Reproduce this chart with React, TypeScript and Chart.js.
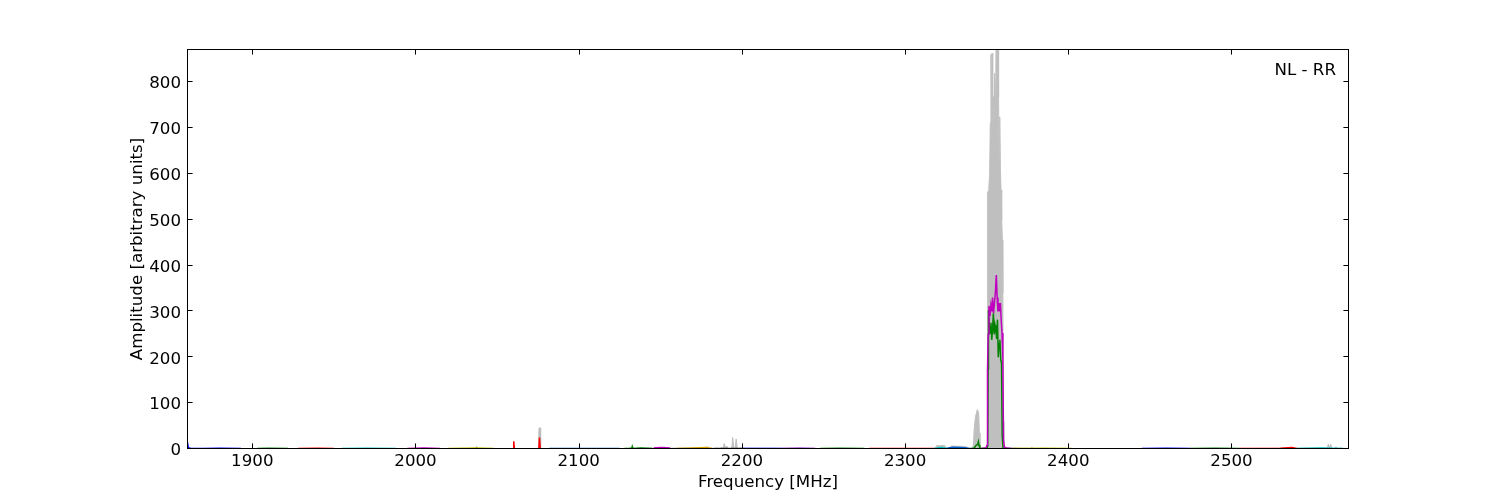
import React, { useEffect, useRef } from 'react';
import { Chart, registerables } from 'chart.js';

Chart.register(...registerables);

const FONT = "'DejaVu Sans', 'Liberation Sans', sans-serif";
const FONT_PX = 16.67;

// Axis setup
const xLimits = [1860, 2572];
const yLimits = [0, 872];
const xTicks = [1900, 2000, 2100, 2200, 2300, 2400, 2500];
const yTicks = [0, 100, 200, 300, 400, 500, 600, 700, 800];
const xTitle = 'Frequency [MHz]';
const yTitle = 'Amplitude [arbitrary units]';
const panelLabel = 'NL - RR';

// Full-band (grey) spectrum
const greyFreq = [
  1860, 1861, 1863, 1900, 1950, 2000,
  2036.8, 2037.5, 2038.2, 2060,
  2075.3, 2075.7, 2076.3, 2076.7, 2100,
  2131, 2131.5, 2132, 2140, 2150, 2152, 2153, 2154,
  2170, 2178, 2179, 2180,
  2186.5, 2187.5, 2188.3, 2189.2, 2190, 2190.8, 2191.5,
  2193.8, 2194.4, 2195, 2195.8, 2196.5, 2197.2, 2199, 2250,
  2317, 2318.5, 2319.5, 2321, 2324, 2325.5, 2327, 2328.5, 2330, 2334, 2337.5, 2339,
  2341.2, 2341.9, 2342.3, 2343.1, 2344.3, 2345.1, 2345.5, 2345.9, 2347,
  2350.4, 2350.6, 2351.2, 2351.8, 2352.2, 2352.6, 2353.0, 2353.3, 2353.7, 2354.1,
  2354.5, 2354.8, 2355.2, 2355.5, 2355.8, 2356.3, 2356.7, 2357.0, 2357.3, 2357.6,
  2358.0, 2358.4, 2358.8, 2359.2, 2359.6, 2359.9, 2360.2, 2360.5, 2361, 2362,
  2377, 2377.7, 2378.4, 2400, 2500,
  2558.8, 2559.3, 2560.2, 2560.8, 2561.5, 2563, 2564, 2565, 2566, 2572,
];
const greyAmp = [
  3, 2, 1, 1, 1, 1,
  1, 6, 1, 1,
  1, 46, 46, 1, 1,
  1, 4, 1, 2, 2, 4, 4, 2,
  2, 3, 5, 2,
  1, 3, 1, 12, 2, 6, 1,
  1, 25, 2, 1, 22, 1, 2, 1,
  1, 2, 8, 7, 8, 2, 1, 7, 6, 6, 5, 1,
  2, 10, 41, 70, 86, 78, 35, 5, 2,
  3, 561, 560, 600, 710, 860, 770, 863, 760, 768,
  700, 819, 770, 760, 920, 1000, 900, 950, 768, 630,
  724, 610, 565, 500, 455, 340, 60, 10, 6, 3,
  1, 4, 1, 1, 1,
  2, 11, 3, 10, 2, 1, 5, 1, 2, 1,
];

// Sub-band spectra (coloured lines)
const segColors = [
  '#0000ff', '#000000', '#008000', '#ff0000', '#00bfbf', '#bf00bf', '#bfbf00',
  '#000000', '#ff0000', '#0060d0', '#008000', '#bf00bf', '#d0a000', '#000000',
  '#0000ff', '#8000c0', '#008000', '#ff0000', '#00bfbf', '#0060d0', '#008000',
  '#bf00bf', '#bfbf00', '#000000', '#0000ff', '#008000', '#ff0000', '#00bfbf',
];
const segFreqs = [
  [1860, 1860.8, 1862, 1870, 1880, 1893],
  [1893, 1903],
  [1903, 1910, 1922],
  [1928, 1940, 1950],
  [1955, 1970, 1988],
  [1995, 2005, 2015],
  [2020, 2037.5, 2048],
  [2048, 2058],
  [2058, 2059.8, 2060.2, 2060.6, 2068, 2075.6, 2076.0, 2076.4, 2082],
  [2082, 2100, 2125],
  [2128, 2132.5, 2132.8, 2133.1, 2138, 2145],
  [2146, 2150, 2156],
  [2160, 2170, 2178, 2182],
  [2183, 2200],
  [2200, 2215, 2225],
  [2225, 2235, 2245],
  [2248, 2260, 2275],
  [2278, 2300, 2318],
  [2318, 2322, 2326],
  [2326, 2330, 2336, 2340],
  [2340, 2341.5, 2342.5, 2343.5, 2344.5, 2344.9, 2345.3, 2345.8, 2346.5, 2349.5, 2350.6, 2350.9, 2351.1,
    2351.6, 2352.1, 2352.6, 2353.1, 2353.6, 2354.1, 2354.6, 2355.1, 2355.6, 2356.1, 2356.6, 2357.1,
    2357.6, 2358.1, 2358.6, 2359.1, 2359.5, 2360, 2361],
  [2347, 2349.5, 2350.2, 2350.5, 2350.9, 2351.4, 2352.0, 2352.6, 2353.2, 2353.6, 2354.2, 2354.8, 2355.3,
    2355.9, 2356.4, 2356.9, 2357.4, 2357.9, 2358.4, 2358.9, 2359.4, 2359.9, 2360.3, 2360.8, 2362, 2364.5, 2366],
  [2366, 2385, 2402],
  [2402, 2430],
  [2445, 2460, 2475],
  [2475, 2490, 2505],
  [2505, 2530, 2537, 2540],
  [2540, 2555, 2568],
];
const segAmps = [
  [20, 3, 1.5, 1, 1.5, 1],
  [0.5, 0.5],
  [1, 1.5, 1],
  [1, 1.5, 1],
  [1, 1.5, 1],
  [1, 2, 1],
  [1, 2, 1],
  [0.5, 0.5],
  [0.5, 1, 17, 1, 0.5, 1, 25, 1, 0.5],
  [1, 1, 1],
  [1, 1, 5, 1, 2, 1],
  [2, 3, 2],
  [1, 2, 3, 1],
  [1, 1],
  [1, 1, 1],
  [1, 1.5, 1],
  [1, 1.5, 1],
  [1, 1, 1],
  [1, 3, 1],
  [2, 4, 3, 1],
  [1, 1, 3, 8, 10, 16, 8, 2, 1, 1, 5, 175, 303,
    270, 253, 275, 238, 260, 296, 250, 270, 260, 240, 282, 200,
    230, 238, 195, 187, 30, 3, 1],
  [1, 2, 8, 172, 250, 312, 290, 314, 300, 330, 296, 320, 340,
    379, 330, 300, 318, 300, 318, 280, 253, 200, 20, 4, 2, 1, 0.5],
  [1, 1.5, 1],
  [0.5, 0.5],
  [1, 1.5, 1],
  [1, 1.5, 1],
  [1, 1.5, 3, 1],
  [1, 2, 1],
];

const zip = (xs: number[], ys: number[]) => xs.map((x, i) => ({ x, y: ys[i] }));

const framePlugin = {
  id: 'mplFrame',
  afterDatasetsDraw(chart: any) {
    const { ctx, chartArea: a, scales } = chart;
    ctx.save();
    ctx.strokeStyle = '#000';
    ctx.lineWidth = 1;
    ctx.strokeRect(a.left + 0.5, a.top + 0.5, a.right - a.left - 1, a.bottom - a.top - 1);
    const tl = 5.6;
    ctx.beginPath();
    xTicks.forEach((v) => {
      const px = Math.round(scales.x.getPixelForValue(v)) + 0.5;
      ctx.moveTo(px, a.bottom);
      ctx.lineTo(px, a.bottom - tl);
      ctx.moveTo(px, a.top);
      ctx.lineTo(px, a.top + tl);
    });
    yTicks.forEach((v) => {
      const py = Math.round(scales.y.getPixelForValue(v)) - 0.5;
      ctx.moveTo(a.left, py);
      ctx.lineTo(a.left + tl, py);
      ctx.moveTo(a.right, py);
      ctx.lineTo(a.right - tl, py);
    });
    ctx.stroke();
    ctx.fillStyle = '#000';
    ctx.font = `${FONT_PX}px ${FONT}`;
    ctx.textAlign = 'right';
    ctx.textBaseline = 'middle';
    ctx.fillText(panelLabel, 1336, 71);
    ctx.restore();
  },
};

export default function App() {
  const ref = useRef<HTMLCanvasElement | null>(null);
  useEffect(() => {
    if (!ref.current) return;
    const n = segFreqs.length;
    const datasets: any[] = [
      {
        label: 'all',
        data: zip(greyFreq, greyAmp),
        borderColor: '#bfbfbf',
        backgroundColor: '#bfbfbf',
        borderWidth: 1,
        fill: 'origin',
        pointRadius: 0,
        order: 1000,
      },
      ...segFreqs.map((f, i) => ({
        label: 'sb' + i,
        data: zip(f, segAmps[i]),
        borderColor: segColors[i],
        backgroundColor: segColors[i],
        borderWidth: 1.5,
        fill: false,
        pointRadius: 0,
        order: n - i,
      })),
    ];
    const tickFont = { family: FONT, size: FONT_PX };
    const chart = new Chart(ref.current, {
      type: 'line',
      data: { datasets },
      options: {
        animation: false,
        responsive: false,
        devicePixelRatio: 1,
        layout: { padding: { left: 0, top: 49, right: 151, bottom: 0 } },
        plugins: { legend: { display: false }, tooltip: { enabled: false } },
        elements: { line: { tension: 0 } },
        scales: {
          x: {
            type: 'linear',
            min: xLimits[0],
            max: xLimits[1],
            grid: { display: false, drawTicks: false },
            border: { display: false },
            afterBuildTicks: (s: any) => { s.ticks = xTicks.map((v) => ({ value: v })); },
            afterFit: (s: any) => { s.height = 51; },
            ticks: {
              font: tickFont, color: '#000', padding: 3, maxRotation: 0, autoSkip: false,
              callback: (v: any) => String(v),
            },
            title: {
              display: true, text: xTitle, color: '#000', font: tickFont,
              padding: { top: 0, bottom: 7 },
            },
          },
          y: {
            type: 'linear',
            min: yLimits[0],
            max: yLimits[1],
            grid: { display: false, drawTicks: false },
            border: { display: false },
            afterBuildTicks: (s: any) => { s.ticks = yTicks.map((v) => ({ value: v })); },
            afterFit: (s: any) => { s.width = 187; },
            ticks: {
              font: tickFont, color: '#000', padding: 6, autoSkip: false, labelOffset: 2,
              callback: (v: any) => String(v),
            },
            title: {
              display: true, text: yTitle, color: '#000', font: tickFont,
              padding: { top: 127.5, bottom: 0 },
            },
          },
        },
      },
      plugins: [framePlugin],
    } as any);
    return () => chart.destroy();
  }, []);
  return (
    <div style={{ position: 'absolute', left: 0, top: 0, width: 1500, height: 500, background: '#fff' }}>
      <canvas ref={ref} width={1500} height={500} style={{ width: 1500, height: 500, display: 'block' }} />
    </div>
  );
}
